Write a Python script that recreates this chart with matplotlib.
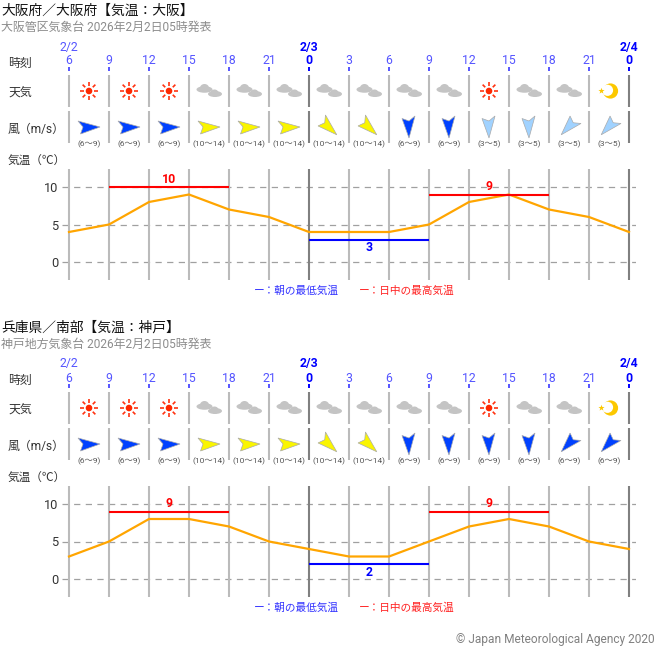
import numpy as np
import matplotlib
matplotlib.use("Agg")
import matplotlib.pyplot as plt
from matplotlib.patches import Circle, Ellipse, Polygon

W, H = 657, 651
JP = ['Roboto', 'Noto Sans CJK JP', 'DejaVu Sans']
plt.rcParams['font.family'] = JP

hours = [0, 3, 6, 9, 12, 15, 18, 21, 24, 27, 30, 33, 36, 39, 42]
hour_labels = [6, 9, 12, 15, 18, 21, 0, 3, 6, 9, 12, 15, 18, 21, 0]
dates = {0: '2/2', 18: '2/3', 42: '2/4'}

titles = ['大阪府／大阪府【気温：大阪】', '兵庫県／南部【気温：神戸】']
subtitles = ['大阪管区気象台 2026年2月2日05時発表', '神戸地方気象台 2026年2月2日05時発表']

temps_a = [4, 5, 8, 9, 7, 6, 4, 4, 4, 5, 8, 9, 7, 6, 4]
temps_b = [3, 5, 8, 8, 7, 5, 4, 3, 3, 5, 7, 8, 7, 5, 4]
# (start hour, end hour, value)
highs_a = [(3, 12, 10), (27, 36, 9)]
lows_a = [(18, 27, 3)]
highs_b = [(3, 12, 9), (27, 36, 9)]
lows_b = [(18, 27, 2)]

weather = ['sun', 'sun', 'sun', 'cloud', 'cloud', 'cloud', 'cloud', 'cloud',
           'cloud', 'cloud', 'sun', 'cloud', 'cloud', 'moon']

# direction the arrow points, compass degrees
wind_dir_a = [90, 90, 90, 90, 90, 90, 135, 135, 180, 180, 180, 180, 225, 225]
wind_rng_a = ['6~9', '6~9', '6~9', '10~14', '10~14', '10~14', '10~14', '10~14',
              '6~9', '6~9', '3~5', '3~5', '3~5', '3~5']
wind_dir_b = [90, 90, 90, 90, 90, 90, 135, 135, 180, 180, 180, 180, 225, 225]
wind_rng_b = ['6~9', '6~9', '6~9', '10~14', '10~14', '10~14', '10~14', '10~14',
              '6~9', '6~9', '6~9', '6~9', '6~9', '6~9']

wind_colors = {'3~5': '#a0d2ff', '6~9': '#0041ff', '10~14': '#faf500'}
LINE = '#bbbbbb'
DARK = '#808080'
BLUE = '#0000ff'
LBLUE = '#5555ff'
TXT = '#333333'


def hour_x(h):
    return 69 + h * 40 / 3


def draw_sun(ax, x, y):
    ax.add_patch(Circle((x, y), 3.3, color='#ff2800', lw=0))
    for a in np.arange(0, 360, 45):
        r = np.radians(a)
        ax.plot([x + 5.3 * np.cos(r), x + 9 * np.cos(r)],
                [y + 5.3 * np.sin(r), y + 9 * np.sin(r)],
                color='#ff3311', lw=1.2, solid_capstyle='butt')


def draw_cloud(ax, x, y):
    c = '#c4c4c4'
    ax.add_patch(Ellipse((x - 4.5, y - 1.5), 16, 6.5, color=c, lw=0))
    ax.add_patch(Ellipse((x - 4.5, y - 3), 9, 8, color=c, lw=0))
    ax.add_patch(Ellipse((x + 6, y + 3), 14, 6, color=c, lw=0))
    ax.add_patch(Ellipse((x + 5.5, y + 2), 8, 7, color=c, lw=0))


def draw_moon(ax, x, y):
    c = '#fcc800'
    ax.add_patch(Circle((x + 1.5, y), 7.6, color=c, lw=0))
    ax.add_patch(Circle((x - 1.5, y - 0.7), 5.6, color='white', lw=0))
    ang = np.radians(np.arange(0, 360, 36) - 90)
    rad = np.array([3.2, 1.3] * 5)
    star = np.column_stack([x - 7.5 + rad * np.cos(ang), y + rad * np.sin(ang)])
    ax.add_patch(Polygon(star, color=c, lw=0))


def draw_wind(ax, x, y, direction, color):
    shape = np.array([[11, 0], [-11, -6], [-6, 0], [-8.5, 7]], dtype=float)
    r = np.radians(direction - 90)
    rot = np.array([[np.cos(r), -np.sin(r)], [np.sin(r), np.cos(r)]])
    pts = shape @ rot.T + [x, y]
    ax.add_patch(Polygon(pts, facecolor=color, edgecolor='#aaaaaa', lw=0.5, joinstyle='miter'))


def draw_panel(bg, off, title, subtitle, temps, highs, lows, wind_dir, wind_rng):
    bg.text(1, 11 + off, title, fontsize=9.9, color='#111111', va='center')
    bg.text(1, 27 + off, subtitle, fontsize=8.6, color='#8c8c8c', va='center')

    bg.text(8, 63 + off, '時刻', fontsize=8.6, color=TXT, va='center')
    bg.text(8, 93 + off, '天気', fontsize=8.6, color=TXT, va='center')
    bg.text(8, 129 + off, '風（m/s）', fontsize=8.6, color=TXT, va='center')
    bg.text(8, 161 + off, '気温（℃）', fontsize=8.4, color=TXT, va='center')

    for h, lab in zip(hours, hour_labels):
        x = hour_x(h)
        day = lab == 0
        bg.text(x, 61 + off, str(lab), fontsize=8.8, ha='center', va='center',
                color=BLUE if day else LBLUE, fontweight='bold' if day else 'normal')
        bg.plot([x, x], [67 + off, 71 + off], color=BLUE if day else LBLUE, lw=1.4,
                solid_capstyle='butt')
        col = DARK if day else LINE
        bg.plot([x, x], [75 + off, 107 + off], color=col, lw=1.5, solid_capstyle='butt')
        bg.plot([x, x], [111 + off, 143 + off], color=col, lw=1.5, solid_capstyle='butt')
        if h in dates:
            bg.text(x, 47 + off, dates[h], fontsize=8.8, ha='center', va='center',
                    color=BLUE if day else LBLUE, fontweight='bold' if day else 'normal')

    for i in range(len(weather)):
        x = hour_x(hours[i]) + 20
        if weather[i] == 'sun':
            draw_sun(bg, x, 91 + off)
        elif weather[i] == 'cloud':
            draw_cloud(bg, x, 91 + off)
        else:
            draw_moon(bg, x, 91 + off)
        draw_wind(bg, x, 127 + off, wind_dir[i], wind_colors[wind_rng[i]])
        bg.text(x, 144.5 + off, '(' + wind_rng[i].replace('~', '〜') + ')', fontsize=6,
                color='#555555', ha='center', va='center')

    # temperature chart: 7.5 px per degree, 0 at y=262
    ax = fig.add_axes([62 / W, 1 - (280 + off) / H, 574 / W, 111 / H])
    ax.patch.set_alpha(0)
    ax.set_xlim(-7 * 3 / 40, 42 + 7 * 3 / 40)
    ax.set_ylim(-18 / 7.5, 93 / 7.5)
    for s in ax.spines.values():
        s.set_visible(False)
    ax.set_xticks([])
    ax.set_yticks([0, 5, 10])
    ax.tick_params(length=0, pad=2.8, labelsize=9.2, labelcolor=TXT)
    for v in [0, 5, 10]:
        ax.axhline(v, color='#a0a0a0', lw=0.9, dashes=(5, 4.3), zorder=1)
    for h, lab in zip(hours, hour_labels):
        ax.axvline(h, color=DARK if lab == 0 else LINE, lw=1.5, zorder=2)
    ax.plot(hours, temps, color='#ffa500', lw=1.6, zorder=3, solid_joinstyle='miter')
    for a, b, v in highs:
        ax.plot([a, b], [v, v], color='#ff0000', lw=1.5, zorder=4, solid_capstyle='butt')
        ax.text((a + b) / 2, v + 0.15, str(v), color='#ff0000', fontsize=8.8, fontweight='bold',
                ha='center', va='bottom', zorder=5)
    for a, b, v in lows:
        ax.plot([a, b], [v, v], color=BLUE, lw=1.5, zorder=4, solid_capstyle='butt')
        ax.text((a + b) / 2, v - 0.25, str(v), color=BLUE, fontsize=8.8, fontweight='bold',
                ha='center', va='top', zorder=5)

    bg.text(254, 291 + off, 'ー：朝の最低気温', fontsize=7.7, color='#3333ff', va='center')
    bg.text(359, 291 + off, 'ー：日中の最高気温', fontsize=7.7, color='#ff2222', va='center')


fig = plt.figure(figsize=(W / 100, H / 100), dpi=100)
bg = fig.add_axes([0, 0, 1, 1])
bg.set_xlim(0, W)
bg.set_ylim(H, 0)
bg.axis('off')

draw_panel(bg, 0, titles[0], subtitles[0], temps_a, highs_a, lows_a, wind_dir_a, wind_rng_a)
draw_panel(bg, 317, titles[1], subtitles[1], temps_b, highs_b, lows_b, wind_dir_b, wind_rng_b)

bg.text(655, 639, '© Japan Meteorological Agency 2020', fontsize=8.6, color='#808080',
        ha='right', va='center')

fig.savefig('out.png', dpi=100)
